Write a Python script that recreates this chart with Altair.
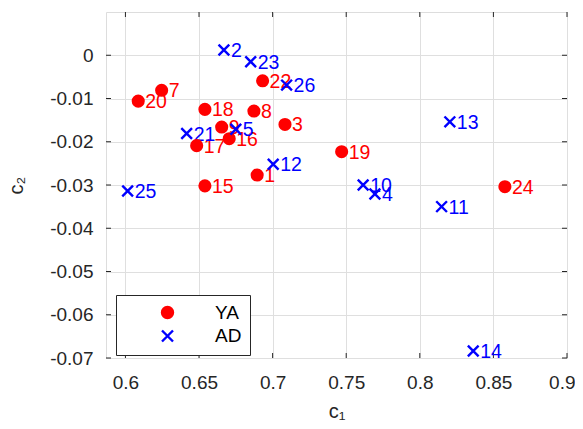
import altair as alt
import pandas as pd

# ---- data ----
ids = [1, 3, 7, 8, 9, 15, 16, 17, 18, 19, 20, 22, 24,
       2, 4, 5, 10, 11, 12, 13, 14, 21, 23, 25, 26]
groups = ["YA", "YA", "YA", "YA", "YA", "YA", "YA", "YA", "YA", "YA", "YA", "YA", "YA",
          "AD", "AD", "AD", "AD", "AD", "AD", "AD", "AD", "AD", "AD", "AD", "AD"]
c1 = [0.6895, 0.7084, 0.6246, 0.6873, 0.6654, 0.6540, 0.6705, 0.6484, 0.6540, 0.7469, 0.6087, 0.6932, 0.8578,
      0.6669, 0.7695, 0.6750, 0.7615, 0.8148, 0.7004, 0.8204, 0.8363, 0.6416, 0.6851, 0.6015, 0.7095]
c2 = [-0.0277, -0.0160, -0.0081, -0.0129, -0.0166, -0.0302, -0.0193, -0.0209, -0.0125, -0.0223, -0.0106, -0.0059, -0.0304,
      0.0012, -0.0321, -0.0171, -0.0300, -0.0350, -0.0252, -0.0154, -0.0684, -0.0181, -0.0015, -0.0314, -0.0069]

x_ticks = [0.6, 0.65, 0.7, 0.75, 0.8, 0.85, 0.9]
y_ticks = [0, -0.01, -0.02, -0.03, -0.04, -0.05, -0.06, -0.07]

df = pd.DataFrame({"id": ids, "group": groups, "c1": c1, "c2": c2})
xt = pd.DataFrame({"v": x_ticks})
yt = pd.DataFrame({"v": y_ticks})

W, H = 461, 346
FONT = "Liberation Sans"
INK = "#262626"
RED = "#ff0000"
BLUE = "#0000ff"

xscale = alt.Scale(domain=[0.5868, 0.9], nice=False, zero=False)
yscale = alt.Scale(domain=[-0.07, 0.01], nice=False, zero=False)

xaxis = alt.Axis(values=x_ticks, grid=True, gridColor="#dfdfdf", ticks=False, domain=False,
                 labelExpr="'' + datum.value", labelFont=FONT, labelFontSize=19, labelColor=INK,
                 labelPadding=15, labelFlush=1, labelFlushOffset=8,
                 title="c₁", titleFont=FONT, titleFontSize=20,
                 titleFontWeight="normal", titleColor=INK, titleX=W / 2, titleY=59,
                 titleBaseline="alphabetic")
yaxis = alt.Axis(values=y_ticks, grid=True, gridColor="#dfdfdf", ticks=False, domain=False,
                 labelExpr="'' + datum.value", labelFont=FONT, labelFontSize=19, labelColor=INK,
                 labelPadding=13, title="c₂", titleFont=FONT, titleFontSize=20,
                 titleFontWeight="normal", titleColor=INK, titleX=-84, titleY=H / 2,
                 titleBaseline="alphabetic")

dom = ["YA", "AD"]
leg = alt.Legend(orient="none", legendX=10, legendY=283, fillColor="white", strokeColor=INK,
                 padding=8, symbolOffset=34, labelOffset=38, symbolSize=121,
                 symbolStrokeWidth=2.4, labelFontSize=19, labelFont=FONT, labelColor="black",
                 rowPadding=2.5, title=None, cornerRadius=0)

points = alt.Chart(df).mark_point(size=115, strokeWidth=2.4, opacity=1).encode(
    x=alt.X("c1:Q", scale=xscale, axis=xaxis),
    y=alt.Y("c2:Q", scale=yscale, axis=yaxis),
    shape=alt.Shape("group:N", scale=alt.Scale(domain=dom, range=["circle", "M-1,-1L1,1M-1,1L1,-1"]), legend=leg),
    fill=alt.Fill("group:N", scale=alt.Scale(domain=dom, range=[RED, "transparent"]), legend=leg),
    stroke=alt.Stroke("group:N", scale=alt.Scale(domain=dom, range=[RED, BLUE]), legend=leg),
)


def label_layer(group, colour):
    return alt.Chart(df).transform_filter(alt.datum.group == group).mark_text(
        align="left", baseline="middle", dx=7, dy=1, fontSize=19.5, font=FONT, color=colour
    ).encode(
        x=alt.X("c1:Q", scale=xscale, axis=xaxis),
        y=alt.Y("c2:Q", scale=yscale, axis=yaxis),
        text="id:N",
    )


labels_ya = label_layer("YA", RED)
labels_ad = label_layer("AD", BLUE)

tick_bottom = alt.Chart(xt).mark_rule(color=INK, strokeWidth=1).encode(
    x=alt.X("v:Q", scale=xscale, axis=xaxis), y=alt.value(H), y2=alt.value(H - 5))
tick_top = alt.Chart(xt).mark_rule(color=INK, strokeWidth=1).encode(
    x=alt.X("v:Q", scale=xscale, axis=xaxis), y=alt.value(0), y2=alt.value(5))
tick_left = alt.Chart(yt).mark_rule(color=INK, strokeWidth=1).encode(
    y=alt.Y("v:Q", scale=yscale, axis=yaxis), x=alt.value(0), x2=alt.value(5))
tick_right = alt.Chart(yt).mark_rule(color=INK, strokeWidth=1).encode(
    y=alt.Y("v:Q", scale=yscale, axis=yaxis), x=alt.value(W), x2=alt.value(W - 5))

chart = alt.layer(tick_bottom, tick_top, tick_left, tick_right, labels_ya, labels_ad, points).properties(
    width=W, height=H,
    autosize=alt.AutoSizeParams(type="none"),
    padding={"left": 98, "top": 4, "right": 8, "bottom": 70},
).configure_view(stroke=INK, strokeWidth=1).configure(font=FONT, background="white")

chart.save("out.html", embed_options={"renderer": "svg", "actions": False})
